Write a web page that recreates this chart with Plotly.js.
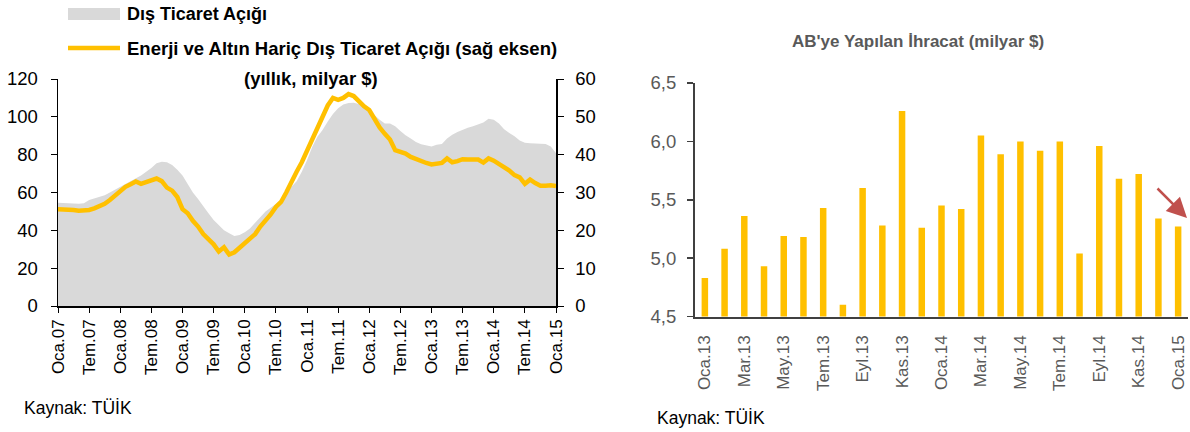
<!DOCTYPE html>
<html><head><meta charset="utf-8">
<script src="https://cdn.plot.ly/plotly-3.0.1.min.js"></script>
<style>html,body{margin:0;padding:0;background:#fff}#c{width:1190px;height:432px}</style>
</head><body><div id="c"></div>
<script>
// ---------- DATA ----------
const monthNames = ['Oca','Şub','Mar','Nis','May','Haz','Tem','Ağu','Eyl','Eki','Kas','Ara'];

// Left chart: monthly, Oca.07 .. Oca.15
const tradeDeficit = [ // Dış Ticaret Açığı (left axis, yıllık milyar $)
 54.6,54.6,54.5,54.2,54.0,54.3,56.0,56.8,57.5,58.5,60.0,61.5,
 63.0,64.5,66.0,67.5,69.0,71.0,73.0,75.5,76.3,76.0,74.5,72.0,
 69.0,64.5,60.0,56.5,52.5,49.0,45.5,42.5,40.0,38.5,37.0,37.5,
 39.0,41.0,44.0,47.0,50.0,52.0,54.0,56.0,59.0,63.0,66.0,71.0,
 77.0,84.0,89.5,93.0,97.5,101.5,104.5,106.5,107.3,107.5,106.8,105.0,
 103.0,101.0,98.5,96.5,96.5,95.0,92.5,90.2,88.5,86.7,85.5,84.7,
 84.3,85.2,85.7,88.5,90.5,92.0,93.3,94.2,95.0,95.8,97.0,99.0,
 98.5,96.5,93.5,91.5,89.8,87.5,86.3,86.0,86.0,85.8,85.6,84.3,
 80.7];
const coreDeficit = [ // Enerji ve Altın Hariç (right axis)
 25.6,25.6,25.5,25.4,25.2,25.2,25.4,25.8,26.3,27.0,28.0,29.2,
 30.6,31.5,32.2,32.9,32.3,32.8,33.5,33.7,33.0,31.3,30.5,28.8,
 25.6,24.5,22.5,21.0,19.0,17.6,16.3,14.4,15.5,13.6,14.2,15.4,
 16.6,17.6,19.0,21.0,22.5,24.2,26.2,27.5,30.0,33.0,35.5,38.0,
 41.0,44.0,47.0,50.0,53.0,55.0,54.5,55.0,56.0,55.5,54.0,52.8,
 51.8,49.5,47.2,45.5,44.0,41.2,40.8,40.3,39.4,38.8,38.2,37.8,
 37.4,37.5,37.8,39.0,38.0,38.3,38.8,38.7,38.6,38.7,37.9,39.0,
 38.4,37.6,36.8,35.8,34.6,34.0,32.3,33.4,32.5,31.8,31.8,31.9,
 31.7];
const leftTickLabels = ['Oca.07','Tem.07','Oca.08','Tem.08','Oca.09','Tem.09','Oca.10','Tem.10',
 'Oca.11','Tem.11','Oca.12','Tem.12','Oca.13','Tem.13','Oca.14','Tem.14','Oca.15'];

// Right chart: AB'ye Yapılan İhracat, Oca.13 .. Oca.15
const euMonths = ['Oca.13','Şub.13','Mar.13','Nis.13','May.13','Haz.13','Tem.13','Ağu.13','Eyl.13','Eki.13','Kas.13','Ara.13',
 'Oca.14','Şub.14','Mar.14','Nis.14','May.14','Haz.14','Tem.14','Ağu.14','Eyl.14','Eki.14','Kas.14','Ara.14','Oca.15'];
const euExports = [4.83,5.08,5.36,4.93,5.19,5.18,5.43,4.60,5.60,5.28,6.26,5.26,
 5.45,5.42,6.05,5.89,6.00,5.92,6.00,5.04,5.96,5.68,5.72,5.34,5.27];
const rightTickLabels = ['Oca.13','Mar.13','May.13','Tem.13','Eyl.13','Kas.13','Oca.14','Mar.14','May.14','Tem.14','Eyl.14','Kas.14','Oca.15'];

// ---------- BUILD ----------
const leftMonths = tradeDeficit.map((_, i) => monthNames[i % 12] + '.' + String(7 + Math.floor(i / 12)).padStart(2, '0'));
const W = 1190, H = 432;
const px = x => x / W, py = y => 1 - y / H;
const FONT = '"Liberation Sans", Arial, sans-serif';

const traces = [
  {x: leftMonths, y: tradeDeficit, type: 'scatter', mode: 'lines', fill: 'tozeroy',
   fillcolor: '#D9D9D9', line: {width: 0, color: '#D9D9D9'}, xaxis: 'x', yaxis: 'y', hoverinfo: 'skip'},
  {x: leftMonths, y: coreDeficit, type: 'scatter', mode: 'lines',
   line: {width: 4.5, color: '#FFC000'}, xaxis: 'x', yaxis: 'y2'},
  {x: euMonths, y: euExports, type: 'bar', marker: {color: '#FFC000'}, xaxis: 'x2', yaxis: 'y3'}
];

const xFontL = {family: FONT, size: 17, color: '#000'};
const yFontL = {family: FONT, size: 18.5, color: '#000'};
const xFontR = {family: FONT, size: 17, color: '#595959'};
const yFontR = {family: FONT, size: 18.5, color: '#595959'};

const layout = {
  width: W, height: H, margin: {l: 0, r: 0, t: 0, b: 0, autoexpand: false},
  paper_bgcolor: '#fff', plot_bgcolor: 'rgba(0,0,0,0)', showlegend: false,
  separators: ', ', bargap: 0.67,
  xaxis: {domain: [px(58), px(556)], anchor: 'y', type: 'category', range: [0, leftMonths.length - 1],
    tickmode: 'array', tickvals: leftTickLabels, ticktext: leftTickLabels, tickangle: -90,
    ticks: 'outside', ticklen: 5, tickcolor: '#000', showline: true, linecolor: '#000', linewidth: 1.5,
    showgrid: false, zeroline: false, tickfont: xFontL, automargin: false},
  yaxis: {domain: [py(306), py(79)], anchor: 'x', range: [0, 120], dtick: 20,
    ticks: 'outside', ticklen: 6, tickcolor: '#000', showline: true, linecolor: '#000', linewidth: 1.5,
    showgrid: false, zeroline: false, tickfont: yFontL, automargin: false, ticklabelstandoff: 9},
  yaxis2: {overlaying: 'y', side: 'right', anchor: 'x', range: [0, 60], dtick: 10,
    ticks: 'outside', ticklen: 6, tickcolor: '#000', showline: true, linecolor: '#000', linewidth: 1.5,
    showgrid: false, zeroline: false, tickfont: yFontL, automargin: false, ticklabelstandoff: 8},
  xaxis2: {domain: [px(695), px(1188)], anchor: 'y3', type: 'category', range: [-0.5, euMonths.length - 0.5],
    tickmode: 'array', tickvals: rightTickLabels, ticktext: rightTickLabels, tickangle: -90,
    ticks: '', showline: true, linecolor: '#404040', linewidth: 2,
    showgrid: false, zeroline: false, tickfont: xFontR, automargin: false, ticklabelstandoff: 10},
  xaxis3: {overlaying: 'x2', anchor: 'y3', range: [-0.5, euMonths.length - 0.5],
    tickmode: 'array', tickvals: rightTickLabels.map((_, i) => 2 * i - 0.5), showticklabels: false,
    ticks: 'outside', ticklen: 6, tickcolor: '#404040', tickwidth: 1.5, showline: false, showgrid: false, zeroline: false},
  yaxis3: {domain: [py(316.5), py(83)], anchor: 'x2', range: [4.5, 6.5], dtick: 0.5, tickformat: '.1f',
    ticks: 'outside', ticklen: 6, tickcolor: '#404040', tickwidth: 1.5, showline: true, linecolor: '#404040', linewidth: 2,
    showgrid: false, zeroline: false, tickfont: yFontR, automargin: false, ticklabelstandoff: 7},
  shapes: [
    {type: 'rect', xref: 'paper', yref: 'paper', x0: px(68), x1: px(120), y0: py(20), y1: py(8),
     fillcolor: '#D9D9D9', line: {width: 0}},
    {type: 'line', xref: 'paper', yref: 'paper', x0: px(68), x1: px(120), y0: py(48), y1: py(48),
     line: {color: '#FFC000', width: 4.5}}
  ],
  annotations: [
    {xref: 'paper', yref: 'paper', x: px(125), y: py(14), xanchor: 'left', yanchor: 'middle', showarrow: false,
     text: '<b>Dış Ticaret Açığı</b>', font: {family: FONT, size: 18, color: '#000'}},
    {xref: 'paper', yref: 'paper', x: px(125), y: py(48), xanchor: 'left', yanchor: 'middle', showarrow: false,
     text: '<b>Enerji ve Altın Hariç Dış Ticaret Açığı (sağ eksen)</b>', font: {family: FONT, size: 18.5, color: '#000'}},
    {xref: 'paper', yref: 'paper', x: px(311), y: py(78), xanchor: 'center', yanchor: 'middle', showarrow: false,
     text: '<b>(yıllık, milyar $)</b>', font: {family: FONT, size: 18.5, color: '#000'}},
    {xref: 'paper', yref: 'paper', x: px(918), y: py(42), xanchor: 'center', yanchor: 'middle', showarrow: false,
     text: "<b>AB'ye Yapılan İhracat (milyar $)</b>", font: {family: FONT, size: 17, color: '#595959'}},
    {xref: 'paper', yref: 'paper', x: px(22), y: py(408), xanchor: 'left', yanchor: 'middle', showarrow: false,
     text: 'Kaynak: TÜİK', font: {family: FONT, size: 17.5, color: '#000'}},
    {xref: 'paper', yref: 'paper', x: px(655), y: py(418), xanchor: 'left', yanchor: 'middle', showarrow: false,
     text: 'Kaynak: TÜİK', font: {family: FONT, size: 17.5, color: '#000'}},
    {xref: 'paper', yref: 'paper', x: px(1187), y: py(218), ax: -31, ay: -31,
     showarrow: true, arrowhead: 2, arrowsize: 1.6, arrowwidth: 2.5, arrowcolor: '#C0504D', text: ''}
  ]
};

Plotly.newPlot('c', traces, layout, {displayModeBar: false, staticPlot: true});
</script>
</body></html>
